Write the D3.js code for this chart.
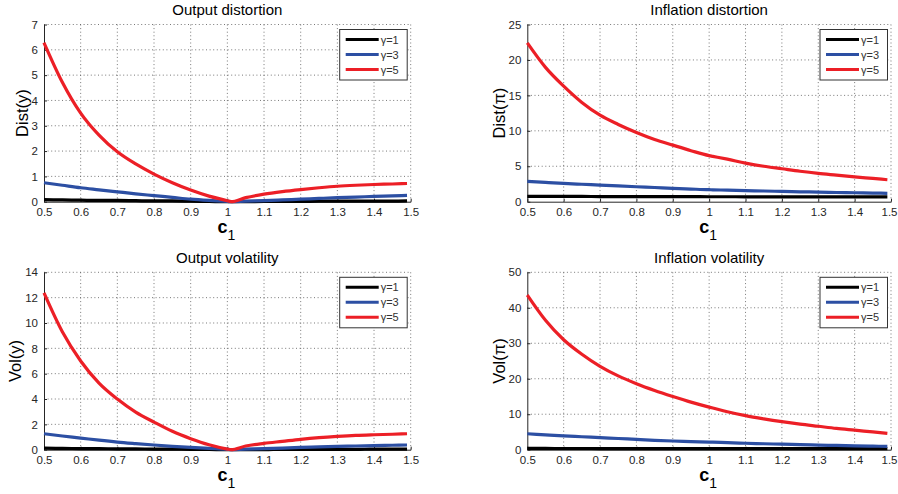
<!DOCTYPE html>
<html>
<head>
<meta charset="utf-8">
<script src="https://cdn.jsdelivr.net/npm/d3@7"></script>
<style>
  html, body { margin: 0; padding: 0; background: #fff; }
  svg { display: block; font-family: "Liberation Sans", Arial, sans-serif; }
</style>
</head>
<body>
<svg id="chart" width="898" height="494"></svg>
<script>
// ---------------- data ----------------
const c1Values = [0.5,0.55,0.6,0.65,0.7,0.75,0.8,0.85,0.9,0.95,1.0,1.01,1.05,1.1,1.15,1.2,1.25,1.3,1.35,1.4,1.45,1.49];

const seriesNames = ["\u03b3=1", "\u03b3=3", "\u03b3=5"];

// Output distortion  Dist(y)
const distY_g1 = [0.08,0.07,0.06,0.05,0.05,0.04,0.03,0.03,0.02,0.01,0.0,0.0,0.0,0.01,0.01,0.01,0.02,0.02,0.02,0.02,0.02,0.03];
const distY_g3 = [0.75,0.65,0.55,0.47,0.39,0.31,0.24,0.17,0.10,0.05,0.01,0.0,0.02,0.04,0.07,0.10,0.13,0.16,0.18,0.21,0.23,0.25];
const distY_g5 = [6.28,4.72,3.5,2.63,1.97,1.49,1.09,0.75,0.46,0.22,0.04,0.0,0.16,0.30,0.40,0.48,0.55,0.61,0.65,0.68,0.70,0.72];

// Inflation distortion  Dist(pi)
const distPi_g1 = [0.75,0.75,0.74,0.74,0.73,0.73,0.72,0.72,0.71,0.71,0.70,0.70,0.70,0.69,0.69,0.69,0.68,0.68,0.68,0.67,0.67,0.67];
const distPi_g3 = [2.86,2.72,2.58,2.46,2.35,2.23,2.11,2.0,1.88,1.78,1.69,1.68,1.63,1.57,1.51,1.45,1.40,1.35,1.30,1.26,1.22,1.18];
const distPi_g5 = [22.4,18.95,16.3,14.0,12.2,10.9,9.77,8.78,7.98,7.2,6.5,6.4,6.0,5.45,5.0,4.65,4.3,4.0,3.75,3.5,3.28,3.1];

// Output volatility  Vol(y)
const volY_g1 = [0.12,0.1,0.09,0.08,0.07,0.06,0.05,0.04,0.03,0.02,0.0,0.0,0.01,0.01,0.02,0.02,0.03,0.03,0.03,0.04,0.04,0.04];
const volY_g3 = [1.26,1.08,0.92,0.75,0.6,0.48,0.37,0.27,0.18,0.1,0.03,0.0,0.04,0.08,0.13,0.18,0.22,0.26,0.29,0.32,0.35,0.37];
const volY_g5 = [12.37,9.3,7.0,5.26,4.0,2.97,2.18,1.45,0.87,0.39,0.05,0.0,0.29,0.5,0.66,0.82,0.95,1.05,1.13,1.18,1.22,1.26];

// Inflation volatility  Vol(pi)
const volPi_g1 = [0.35,0.35,0.34,0.34,0.33,0.33,0.32,0.32,0.31,0.31,0.3,0.3,0.3,0.3,0.29,0.29,0.29,0.29,0.28,0.28,0.28,0.28];
const volPi_g3 = [4.5,4.2,3.9,3.65,3.4,3.15,2.9,2.65,2.45,2.3,2.15,2.12,1.98,1.82,1.68,1.55,1.42,1.3,1.2,1.1,1.0,0.95];
const volPi_g5 = [43.6,36.5,31.0,26.9,23.5,20.8,18.6,16.7,15.0,13.4,12.0,11.74,10.7,9.6,8.7,7.9,7.2,6.6,6.0,5.5,5.0,4.6];

const xTicks = [0.5,0.6,0.7,0.8,0.9,1,1.1,1.2,1.3,1.4,1.5];
const xTickLabels = ["0.5","0.6","0.7","0.8","0.9","1","1.1","1.2","1.3","1.4","1.5"];
const yTicksDistY = [0,1,2,3,4,5,6,7];
const yTicksDistPi = [0,5,10,15,20,25];
const yTicksVolY = [0,2,4,6,8,10,12,14];
const yTicksVolPi = [0,10,20,30,40,50];

const titles = ["Output distortion", "Inflation distortion", "Output volatility", "Inflation volatility"];
const yLabels = ["Dist(y)", "Dist(\u03c0)", "Vol(y)", "Vol(\u03c0)"];

// ---------------- layout ----------------
const colors = ["#000000", "#2c4fa3", "#ec1f26"];
const panelBoxes = [
  {l: 44,    t: 24.5,  r: 410.7, b: 201.7, ylabX: 16,  ticks: yTicksDistY,  series: [distY_g1, distY_g3, distY_g5]},
  {l: 527.3, t: 24.5,  r: 891,   b: 201.7, ylabX: 493, ticks: yTicksDistPi, series: [distPi_g1, distPi_g3, distPi_g5]},
  {l: 44,    t: 272.3, r: 410.7, b: 449.7, ylabX: 9,   ticks: yTicksVolY,   series: [volY_g1, volY_g3, volY_g5]},
  {l: 527.3, t: 272.3, r: 891,   b: 449.7, ylabX: 493, ticks: yTicksVolPi,  series: [volPi_g1, volPi_g3, volPi_g5]}
];

const svg = d3.select("#chart");
const textColor = "#262626";

panelBoxes.forEach((p, i) => {
  const x = d3.scaleLinear().domain([0.5, 1.5]).range([p.l, p.r]);
  const yTicks = p.ticks;
  const y = d3.scaleLinear().domain([yTicks[0], yTicks[yTicks.length - 1]]).range([p.b, p.t]);
  const g = svg.append("g");

  // grid (dotted), includes top and right edges
  g.append("g").selectAll("line").data(xTicks.slice(1)).join("line")
    .attr("x1", d => x(d)).attr("x2", d => x(d))
    .attr("y1", p.t).attr("y2", p.b)
    .attr("stroke", "#555").attr("stroke-width", 0.8)
    .attr("stroke-dasharray", "1,2.6");
  g.append("g").selectAll("line").data(yTicks.slice(1)).join("line")
    .attr("x1", p.l).attr("x2", p.r)
    .attr("y1", d => y(d)).attr("y2", d => y(d))
    .attr("stroke", "#555").attr("stroke-width", 0.8)
    .attr("stroke-dasharray", "1,2.6");

  // axes
  const xAxis = d3.axisBottom(x).tickValues(xTicks)
    .tickFormat((d, k) => xTickLabels[k]).tickSizeInner(-3).tickSizeOuter(0).tickPadding(6);
  const gx = g.append("g").attr("transform", `translate(0,${p.b})`).call(xAxis);
  gx.select(".domain").attr("stroke", "#262626").attr("stroke-width", 1);
  gx.selectAll(".tick line").attr("stroke", "#262626");
  gx.selectAll(".tick text").attr("fill", textColor).attr("font-size", 11.5)
    .attr("font-family", "Liberation Sans, Arial, sans-serif");
  if (p.r > 880) {
    gx.selectAll(".tick text").filter(d => d === 1.5).attr("dx", -2);
  }

  const yAxis = d3.axisLeft(y).tickValues(yTicks).tickFormat(d3.format("d"))
    .tickSizeInner(-3).tickSizeOuter(0).tickPadding(6);
  const gy = g.append("g").attr("transform", `translate(${p.l},0)`).call(yAxis);
  gy.select(".domain").attr("stroke", "#262626").attr("stroke-width", 1);
  gy.selectAll(".tick line").attr("stroke", "#262626");
  gy.selectAll(".tick text").attr("fill", textColor).attr("font-size", 11.5)
    .attr("font-family", "Liberation Sans, Arial, sans-serif");

  // lines
  const line = d3.line().x((d, k) => x(c1Values[k])).y(d => y(d)).curve(d3.curveMonotoneX);
  p.series.forEach((s, k) => {
    g.append("path").datum(s)
      .attr("d", line)
      .attr("fill", "none")
      .attr("stroke", colors[k])
      .attr("stroke-width", 3.2)
      .attr("stroke-linejoin", "round");
  });

  const cx = (p.l + p.r) / 2;
  // title
  g.append("text").attr("x", cx).attr("y", p.t - 9.5)
    .attr("text-anchor", "middle").attr("font-size", 15).attr("fill", "#000")
    .text(titles[i]);

  // y label
  const cy = (p.t + p.b) / 2;
  g.append("text")
    .attr("transform", `translate(${p.ylabX + 12},${cy}) rotate(-90)`)
    .attr("text-anchor", "middle").attr("font-size", 16.5).attr("fill", "#000")
    .text(yLabels[i]);

  // x label c_1
  const xl = g.append("text").attr("x", cx - 1).attr("y", p.b + 31.5)
    .attr("text-anchor", "middle").attr("fill", "#000");
  xl.append("tspan").attr("font-size", 18).attr("font-weight", "bold").text("c");
  xl.append("tspan").attr("font-size", 14).attr("dy", 7).text("1");

  // legend
  const lw = 67.5, lh = 50.5;
  const lx = p.r - 3.5 - lw, ly = p.t + 5;
  const lg = g.append("g").attr("transform", `translate(${lx},${ly})`);
  lg.append("rect").attr("x", 0).attr("y", 0).attr("width", lw).attr("height", lh)
    .attr("fill", "#fff").attr("stroke", "#333").attr("stroke-width", 1);
  seriesNames.forEach((nm, k) => {
    const yy = 10 + k * 15;
    lg.append("line").attr("x1", 6).attr("x2", 39).attr("y1", yy).attr("y2", yy)
      .attr("stroke", colors[k]).attr("stroke-width", 3);
    lg.append("text").attr("x", 41).attr("y", yy + 4).attr("font-size", 11)
      .attr("fill", "#333").text(nm);
  });
});
</script>
</body>
</html>
